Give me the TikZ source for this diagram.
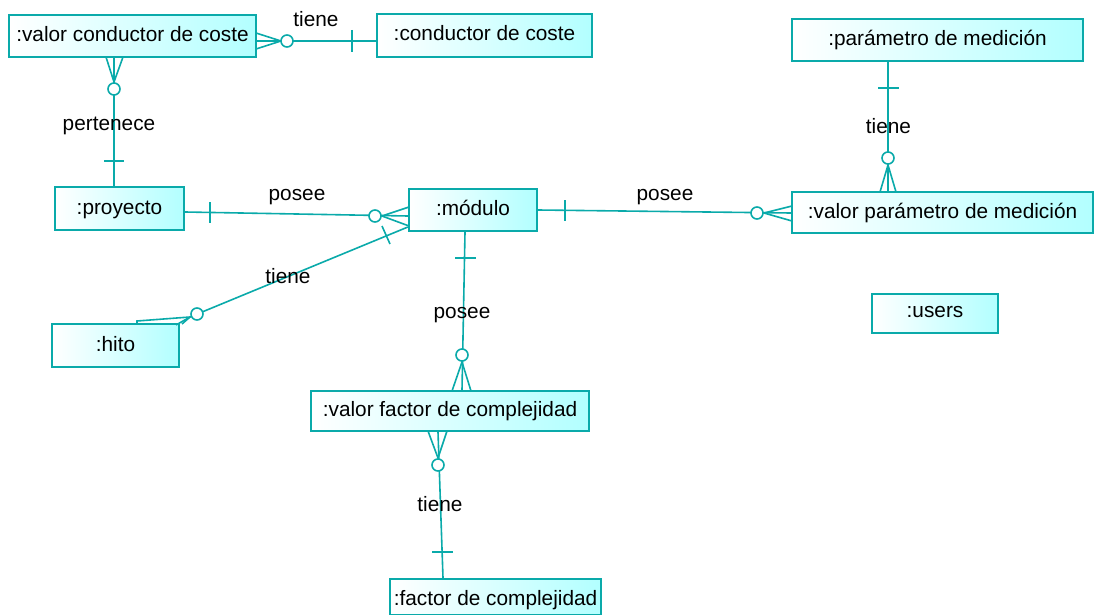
\documentclass[tikz,border=0pt]{standalone}
\usepackage{fontspec}
\setmainfont{Liberation Sans}
\usetikzlibrary{calc}
\definecolor{erline}{RGB}{10,170,170}
\definecolor{erfill}{RGB}{178,255,255}
\tikzset{
  entity/.style={rectangle, draw=erline, line width=2.2pt, inner sep=0pt,
    left color=white, right color=erfill,
    font=\fontsize{20.8}{24}\selectfont, text height=11pt, text depth=0pt},
  rel/.style={draw=erline, line width=1.6pt},
  optc/.style={draw=erline, line width=1.6pt, fill=white},
  lbl/.style={font=\fontsize{20.8}{24}\selectfont, anchor=base, inner sep=0pt},
}
\begin{document}
\begin{tikzpicture}[x=1pt,y=-1pt]
\useasboundingbox (0,0) rectangle (1094,615);

% entities
\node[entity, minimum width=247pt, minimum height=42pt] (vcc) at (132.5,36) {:valor conductor de coste};
\node[entity, minimum width=215pt, minimum height=43pt] (cc) at (484.5,35.5) {:conductor de coste};
\node[entity, minimum width=291pt, minimum height=42pt] (pm) at (937.5,40) {:parámetro de medición};
\node[entity, minimum width=301pt, minimum height=41pt] (vpm) at (942.5,212.5) {:valor parámetro de medición};
\node[entity, minimum width=129pt, minimum height=43pt] (pro) at (119.5,208.5) {:proyecto};
\node[entity, minimum width=128pt, minimum height=42pt] (mod) at (473,210) {:módulo};
\node[entity, minimum width=127pt, minimum height=43pt] (hito) at (115.5,345.5) {:hito};
\node[entity, minimum width=126pt, minimum height=39pt, text height=8pt] (users) at (935,313.5) {:users};
\node[entity, minimum width=278pt, minimum height=40pt] (vfc) at (450,411) {:valor factor de complejidad};
\node[entity, minimum width=211pt, minimum height=36pt, text height=16pt] (fc) at (495.5,597) {:factor de complejidad};

% valor conductor de coste -- conductor de coste
\draw[rel] (vcc.east |- 0,41) -- (cc.west |- 0,41);
\draw[rel] (256,33) -- (281,41) -- (256,49);
\draw[rel] (352,30) -- (352,52);
\draw[optc] (287,41) circle[radius=6];
\node[lbl] (l1) at (316,27) {tiene};

% valor conductor de coste -- proyecto
\draw[rel] (vcc.south -| 114,0) -- (pro.north -| 114,0);
\draw[rel] (106,57) -- (114,82) -- (123,57);
\draw[rel] (104,161) -- (124,161);
\draw[optc] (114,89) circle[radius=6];
\node[lbl] (l2) at (109,131) {pertenece};

% proyecto -- modulo
\draw[rel] (pro.east |- 0,212) -- (mod.west |- 0,216);
\draw[rel] (210,202) -- (210,223);
\draw[rel] (409,207) -- (382,216) -- (409,226);
\draw[optc] (375,216) circle[radius=6];
\node[lbl] (l3) at (297,200) {posee};

% modulo -- valor parametro de medicion
\draw[rel] (mod.east |- 0,210) -- (vpm.west |- 0,213);
\draw[rel] (565,200) -- (565,221);
\draw[rel] (792,206) -- (764,213) -- (792,221);
\draw[optc] (757,213) circle[radius=6];
\node[lbl] (l4) at (665,200) {posee};

% parametro de medicion -- valor parametro de medicion
\draw[rel] (pm.south -| 888,0) -- (vpm.north -| 888,0);
\draw[rel] (878,88) -- (899,88);
\draw[rel] (880,192) -- (888,165) -- (896,192);
\draw[optc] (888,158) circle[radius=6];
\node[lbl] (l5) at (888.5,133) {tiene};

% modulo -- hito
\coordinate (hj) at (190,317);
\draw[rel] (hj) -- (mod.west |- 0,227);
\draw[rel] (382,226) -- (390,244);
\draw[rel] (137,324) -- (137,321) -- (hj) -- (182,324);
\draw[rel] (hj) -- (176,325);
\draw[optc] (197,314) circle[radius=6];
\node[lbl] (l6) at (288,283) {tiene};

% modulo -- valor factor de complejidad
\draw[rel] (mod.south -| 465,0) -- (vfc.north -| 462,0);
\draw[rel] (455,258) -- (476,258);
\draw[rel] (452,391) -- (462,362) -- (471,391);
\draw[optc] (462,355) circle[radius=6];
\node[lbl] (l7) at (462,318) {posee};

% valor factor de complejidad -- factor de complejidad
\draw[rel] (vfc.south -| 438,0) -- (fc.north -| 443,0);
\draw[rel] (428,431) -- (438,458) -- (447,431);
\draw[rel] (432,552) -- (453,552);
\draw[optc] (438,465) circle[radius=6];
\node[lbl] (l8) at (440,511) {tiene};
\end{tikzpicture}
\end{document}
